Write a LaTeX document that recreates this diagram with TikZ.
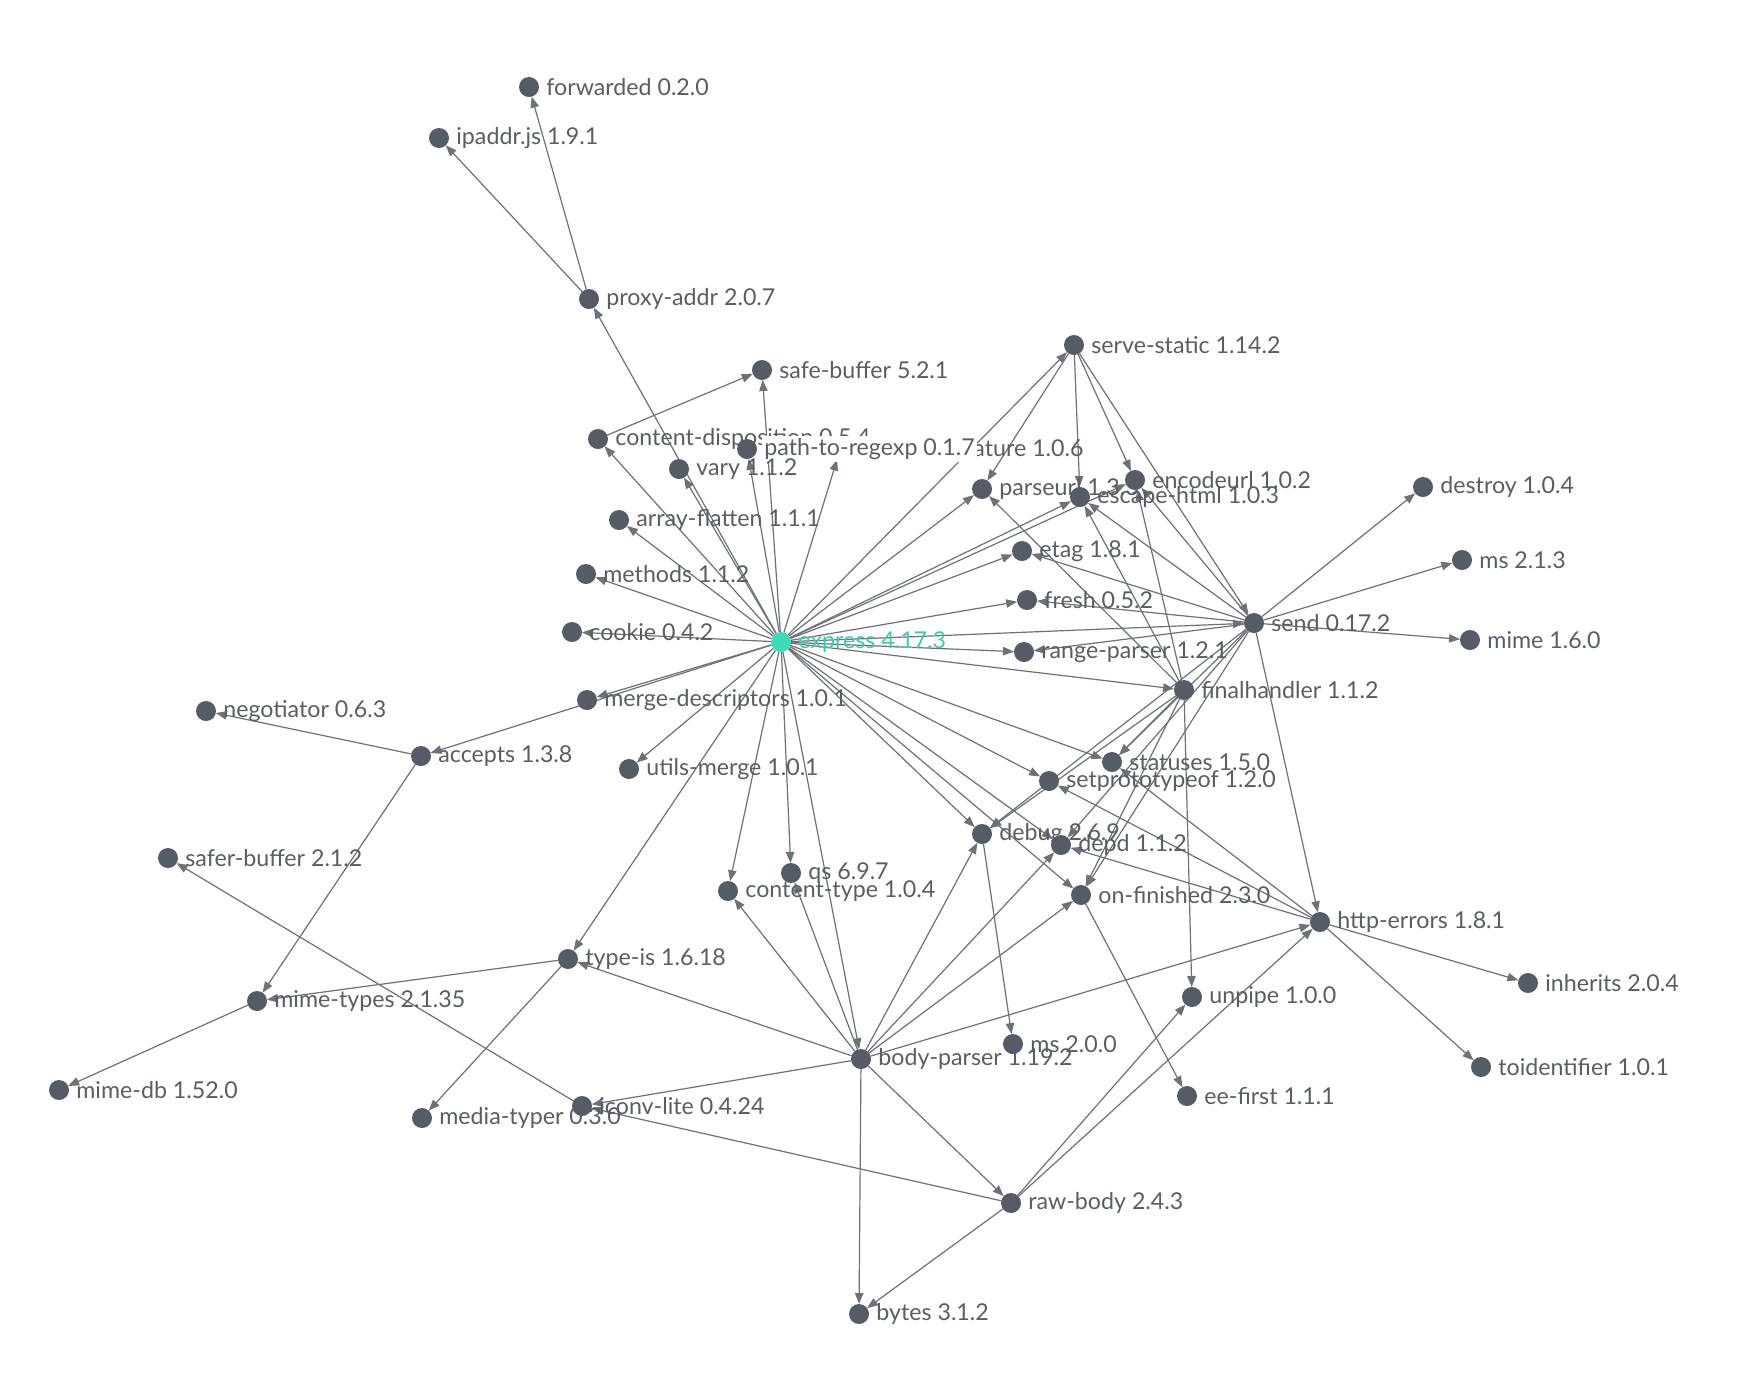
\documentclass[tikz,border=0pt]{standalone}
\usepackage{fontspec}
\setmainfont{Lato}
\usetikzlibrary{arrows.meta}
\definecolor{nodecol}{HTML}{565C66}
\definecolor{edgecol}{HTML}{6D7178}
\definecolor{txtcol}{HTML}{5A5E64}
\definecolor{teal}{HTML}{3DDBB9}
\definecolor{tealtxt}{HTML}{45C9AE}
\pgfdeclarelayer{bg}
\pgfsetlayers{bg,main}
\tikzset{
  dep/.style={circle, fill=nodecol, inner sep=0pt, minimum size=10pt, outer sep=0pt},
  lbl/.style={text=txtcol, font=\fontsize{11.6pt}{13pt}\selectfont, inner sep=0pt},
  edge/.style={draw=edgecol, line width=0.6pt, -{Triangle[length=5.5pt,width=4.2pt]}},
  label distance=3.5pt
}
\newcommand{\dn}[4]{\node[dep, label={[lbl]right:#4}] (#1) at (#2,#3) {};}
\begin{document}
\begin{tikzpicture}[x=0.5pt,y=-0.5pt]
\begin{pgfonlayer}{bg}
\fill[white] (0,0) rectangle (1742,1394);
\end{pgfonlayer}
\useasboundingbox (0,0) rectangle (1742,1394);
\dn{forwarded}{529}{87}{forwarded 0.2.0}
\dn{ipaddr}{439}{138}{ipaddr.js 1.9.1}
\dn{proxyaddr}{589}{299}{proxy-addr 2.0.7}
\dn{safebuffer}{762}{370}{safe-buffer 5.2.1}
\dn{contentdisp}{598}{439}{content-disposition 0.5.4}
\dn{cookiesig}{840}{450}{cookie-signature 1.0.6}
\node[dep, label={[lbl, fill=white, inner sep=1pt, label distance=2.5pt]right:path-to-regexp 0.1.7}] (pathtoregexp) at (747,449) {};
\dn{vary}{679}{469}{vary 1.1.2}
\dn{arrayflatten}{619}{520}{array-flatten 1.1.1}
\dn{methods}{586}{574}{methods 1.1.2}
\dn{cookie}{572}{632}{cookie 0.4.2}
\node[dep, fill=teal, label={[lbl, text=tealtxt]right:express 4.17.3}] (express) at (781,642) {};
\dn{mergedesc}{587}{700}{merge-descriptors 1.0.1}
\dn{utilsmerge}{629}{769}{utils-merge 1.0.1}
\dn{accepts}{421}{756}{accepts 1.3.8}
\dn{negotiator}{206}{711}{negotiator 0.6.3}
\dn{saferbuffer}{168}{858}{safer-buffer 2.1.2}
\dn{mimetypes}{257}{1001}{mime-types 2.1.35}
\dn{mimedb}{59}{1090}{mime-db 1.52.0}
\dn{typeis}{568}{959}{type-is 1.6.18}
\dn{mediatyper}{422}{1118}{media-typer 0.3.0}
\dn{iconvlite}{582}{1106}{iconv-lite 0.4.24}
\dn{contenttype}{728}{891}{content-type 1.0.4}
\dn{qs}{791}{873}{qs 6.9.7}
\dn{bodyparser}{861}{1059}{body-parser 1.19.2}
\dn{mstwo}{1013}{1044}{ms 2.0.0}
\dn{rawbody}{1011}{1203}{raw-body 2.4.3}
\dn{bytes}{859}{1314}{bytes 3.1.2}
\dn{debug}{982}{834}{debug 2.6.9}
\dn{depd}{1061}{845}{depd 1.1.2}
\dn{setproto}{1049}{781}{setprototypeof 1.2.0}
\dn{statuses}{1112}{762}{statuses 1.5.0}
\dn{onfinished}{1081}{895}{on-finished 2.3.0}
\dn{eefirst}{1187}{1096}{ee-first 1.1.1}
\dn{unpipe}{1192}{997}{unpipe 1.0.0}
\dn{httperrors}{1320}{922}{http-errors 1.8.1}
\dn{inherits}{1528}{983}{inherits 2.0.4}
\dn{toidentifier}{1481}{1067}{toidentifier 1.0.1}
\dn{finalhandler}{1184}{690}{finalhandler 1.1.2}
\dn{send}{1254}{623}{send 0.17.2}
\dn{rangeparser}{1024}{652}{range-parser 1.2.1}
\dn{fresh}{1027}{600}{fresh 0.5.2}
\dn{etag}{1022}{551}{etag 1.8.1}
\dn{parseurl}{982}{489}{parseurl 1.3.3}
\dn{escapehtml}{1080}{497}{escape-html 1.0.3}
\dn{encodeurl}{1135}{480}{encodeurl 1.0.2}
\dn{servestatic}{1074}{345}{serve-static 1.14.2}
\dn{destroy}{1423}{487}{destroy 1.0.4}
\dn{msthree}{1462}{560}{ms 2.1.3}
\dn{mime}{1470}{640}{mime 1.6.0}
\begin{pgfonlayer}{bg}
\foreach \t in {accepts,arrayflatten,bodyparser,contentdisp,contenttype,cookie,cookiesig,debug,depd,encodeurl,escapehtml,etag,finalhandler,fresh,mergedesc,methods,onfinished,parseurl,pathtoregexp,proxyaddr,qs,rangeparser,safebuffer,send,servestatic,setproto,statuses,typeis,utilsmerge,vary}
  \draw[edge] (express) -- (\t);
\foreach \t in {forwarded,ipaddr} \draw[edge] (proxyaddr) -- (\t);
\draw[edge] (contentdisp) -- (safebuffer);
\foreach \t in {mimetypes,negotiator} \draw[edge] (accepts) -- (\t);
\draw[edge] (mimetypes) -- (mimedb);
\foreach \t in {mediatyper,mimetypes} \draw[edge] (typeis) -- (\t);
\draw[edge] (iconvlite) -- (saferbuffer);
\foreach \t in {bytes,contenttype,debug,depd,httperrors,iconvlite,onfinished,qs,rawbody,typeis}
  \draw[edge] (bodyparser) -- (\t);
\foreach \t in {bytes,httperrors,iconvlite,unpipe} \draw[edge] (rawbody) -- (\t);
\draw[edge] (debug) -- (mstwo);
\draw[edge] (onfinished) -- (eefirst);
\foreach \t in {depd,inherits,setproto,statuses,toidentifier} \draw[edge] (httperrors) -- (\t);
\foreach \t in {debug,depd,destroy,encodeurl,escapehtml,etag,fresh,httperrors,mime,msthree,onfinished,rangeparser,statuses}
  \draw[edge] (send) -- (\t);
\foreach \t in {encodeurl,escapehtml,parseurl,send} \draw[edge] (servestatic) -- (\t);
\foreach \t in {debug,encodeurl,escapehtml,onfinished,parseurl,statuses,unpipe}
  \draw[edge] (finalhandler) -- (\t);
\end{pgfonlayer}
\end{tikzpicture}
\end{document}
